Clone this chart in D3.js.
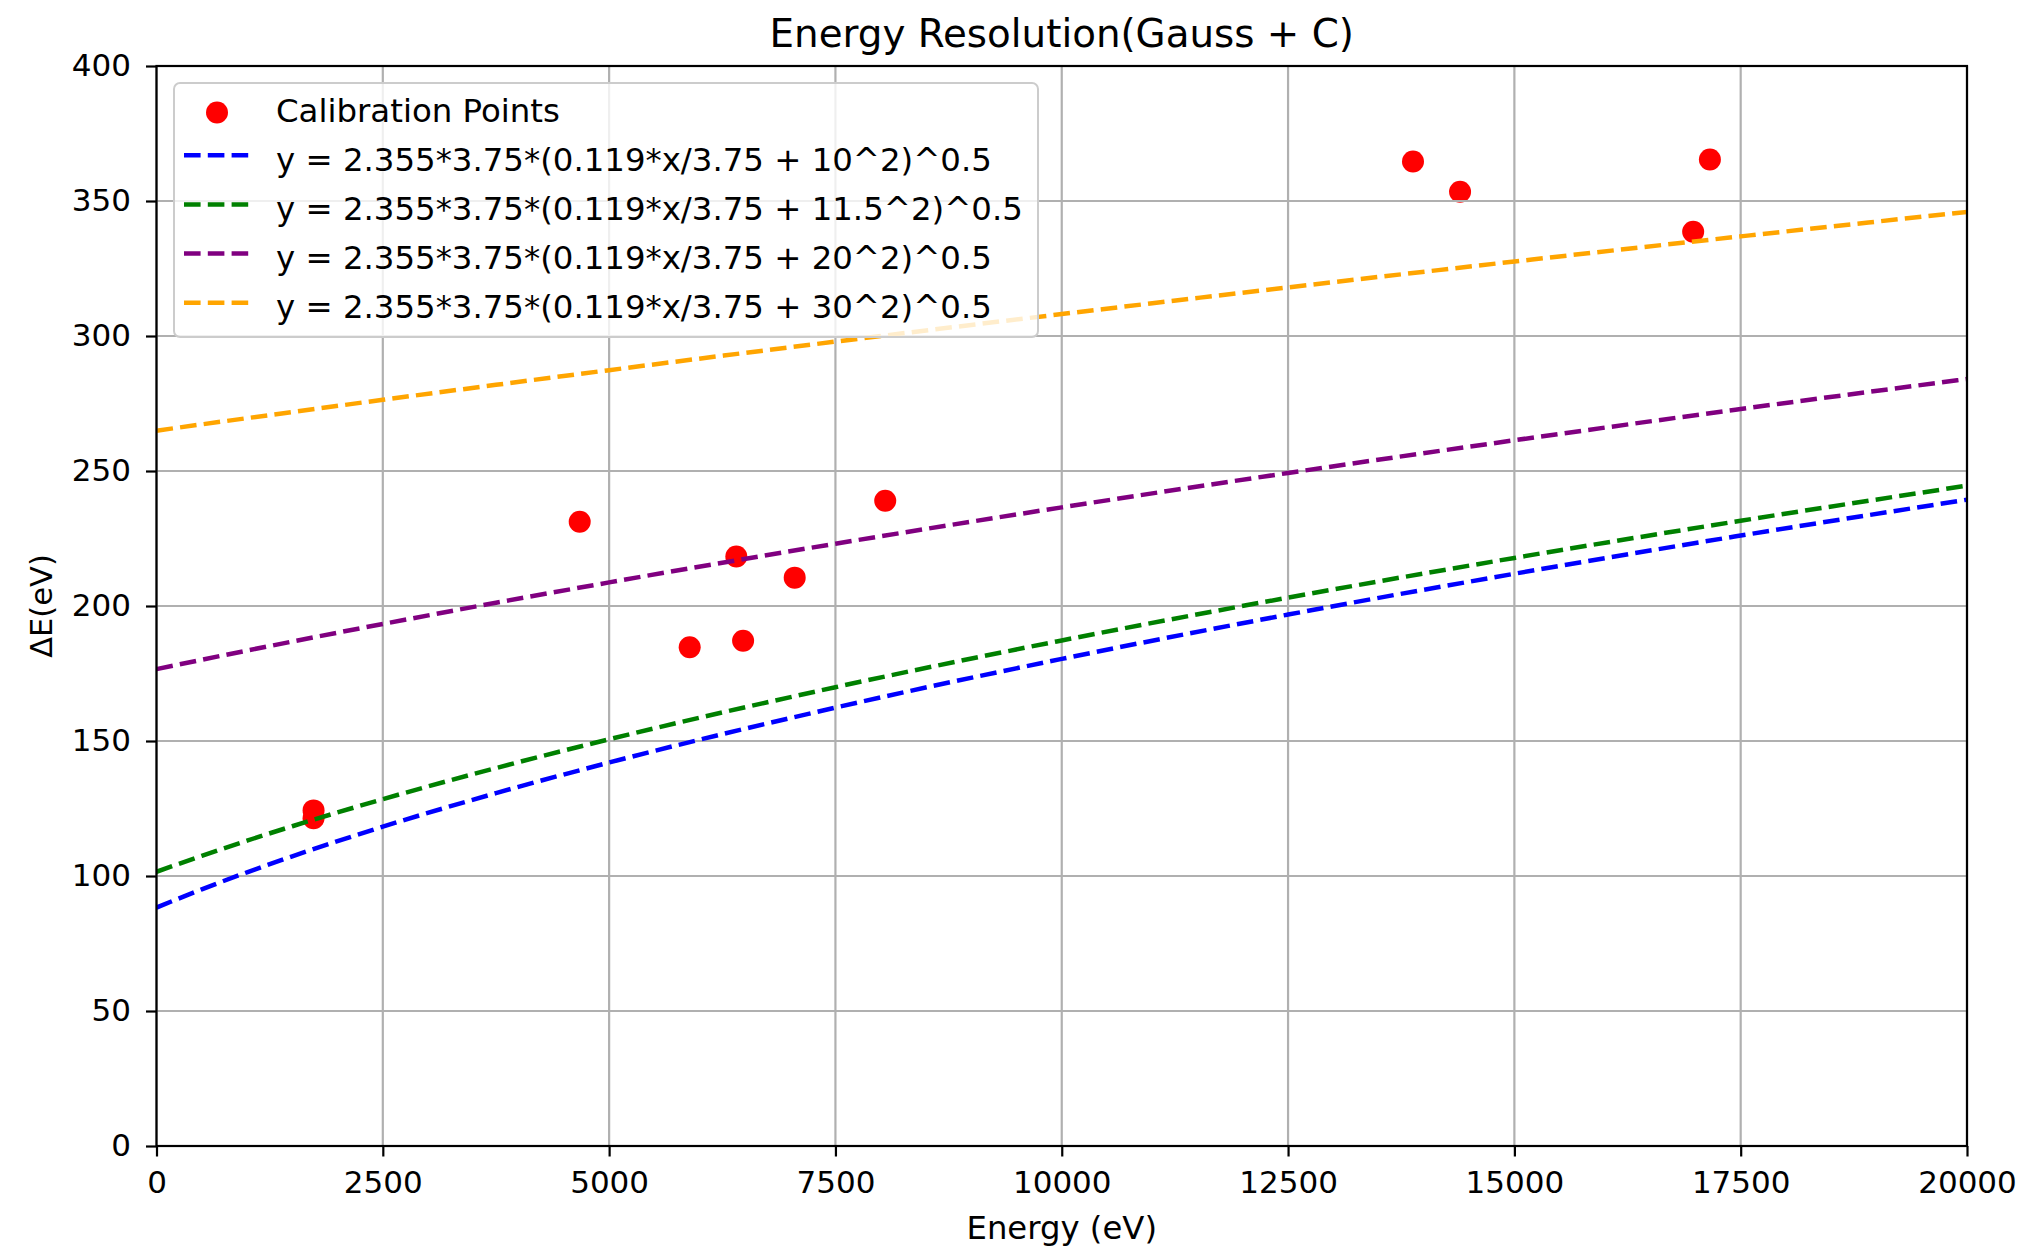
<!DOCTYPE html>
<html>
<head>
<meta charset="utf-8">
<script src="https://cdn.jsdelivr.net/npm/d3@7"></script>
<style>
  body { margin: 0; background: #fff; }
  text { font-family: "DejaVu Sans", sans-serif; fill: #000; }
</style>
</head>
<body>
<div id="chart"></div>
<script>
// calibration points
const energies = [1735, 1735, 4675, 5890, 6405, 6480, 7050, 8050, 13880, 14400, 16975, 17160];
const resolutions = [124.3, 121.4, 231.2, 184.7, 218.3, 187.1, 210.5, 239.0, 364.6, 353.4, 338.6, 365.4];

// the four dashed curves, sampled along x
const curveEnergies = [0, 500, 1000, 1500, 2500, 3750, 5000, 7500, 10000, 12500, 15000, 17500, 20000];
const fit10 = [88.31, 95.06, 101.36, 107.29, 118.27, 130.69, 142.03, 162.36, 180.41, 196.82, 211.95, 226.08, 239.37];
const fit115 = [101.56, 107.48, 113.09, 118.43, 128.46, 139.98, 150.63, 169.93, 187.25, 203.10, 217.81, 231.57, 244.57];
const fit20 = [176.63, 180.09, 183.50, 186.84, 193.35, 201.19, 208.74, 223.07, 236.53, 249.27, 261.38, 272.96, 284.07];
const fit30 = [264.94, 267.27, 269.57, 271.85, 276.37, 281.91, 287.35, 297.92, 308.13, 318.01, 327.59, 336.90, 345.97];

const curveLabels = [
    "y = 2.355*3.75*(0.119*x/3.75 + 10^2)^0.5",
    "y = 2.355*3.75*(0.119*x/3.75 + 11.5^2)^0.5",
    "y = 2.355*3.75*(0.119*x/3.75 + 20^2)^0.5",
    "y = 2.355*3.75*(0.119*x/3.75 + 30^2)^0.5"
];
const curveColors = ["blue", "green", "purple", "orange"];
const xTicks = [0, 2500, 5000, 7500, 10000, 12500, 15000, 17500, 20000];
const yTicks = [0, 50, 100, 150, 200, 250, 300, 350, 400];

const width = 2025, height = 1246;
const plot = { left: 156.5, right: 1967, top: 66, bottom: 1146 };

const svg = d3.select("#chart")
    .append("svg")
    .attr("width", width)
    .attr("height", height);

svg.append("rect").attr("width", width).attr("height", height).attr("fill", "#fff");

const xScale = d3.scaleLinear().domain([0, 20000]).range([plot.left, plot.right]);
const yScale = d3.scaleLinear().domain([0, 400]).range([plot.bottom, plot.top]);

svg.append("clipPath").attr("id", "clip")
    .append("rect")
    .attr("x", plot.left).attr("y", plot.top)
    .attr("width", plot.right - plot.left).attr("height", plot.bottom - plot.top);

// scatter first, grid over it (matplotlib order), then lines
const pts = energies.map((e, i) => ({ x: e, y: resolutions[i] }));
svg.append("g").attr("clip-path", "url(#clip)")
    .selectAll("circle")
    .data(pts)
    .enter()
    .append("circle")
    .attr("cx", d => xScale(d.x))
    .attr("cy", d => yScale(d.y))
    .attr("r", 11)
    .attr("fill", "red");

const grid = svg.append("g");
grid.selectAll(".gx").data(xTicks).enter().append("line")
    .attr("x1", d => xScale(d)).attr("x2", d => xScale(d))
    .attr("y1", plot.top).attr("y2", plot.bottom)
    .attr("stroke", "#b0b0b0").attr("stroke-width", 2.2);
grid.selectAll(".gy").data(yTicks).enter().append("line")
    .attr("x1", plot.left).attr("x2", plot.right)
    .attr("y1", d => yScale(d)).attr("y2", d => yScale(d))
    .attr("stroke", "#b0b0b0").attr("stroke-width", 2.2);

const fits = [fit10, fit115, fit20, fit30];
const line = d3.line()
    .x(d => xScale(d.x))
    .y(d => yScale(d.y))
    .curve(d3.curveMonotoneX);

const lineGroup = svg.append("g").attr("clip-path", "url(#clip)");
fits.forEach((vals, k) => {
    const data = curveEnergies.map((e, i) => ({ x: e, y: vals[i] }));
    lineGroup.append("path")
        .datum(data)
        .attr("fill", "none")
        .attr("stroke", curveColors[k])
        .attr("stroke-width", 4.5)
        .attr("stroke-dasharray", "16.6,7.2")
        .attr("d", line);
});

// axes
const xAxis = svg.append("g")
    .attr("transform", `translate(0,${plot.bottom})`)
    .call(d3.axisBottom(xScale).tickValues(xTicks).tickFormat(d3.format("d"))
        .tickSize(10.5).tickSizeOuter(0).tickPadding(14.5));
const yAxis = svg.append("g")
    .attr("transform", `translate(${plot.left},0)`)
    .call(d3.axisLeft(yScale).tickValues(yTicks).tickFormat(d3.format("d"))
        .tickSize(10.5).tickSizeOuter(0).tickPadding(15));

[xAxis, yAxis].forEach(ax => {
    ax.select(".domain").remove();
    ax.selectAll(".tick line").attr("stroke", "#000").attr("stroke-width", 2.2);
    ax.selectAll(".tick text")
        .style("font-family", "DejaVu Sans")
        .style("font-size", "31px")
        .attr("fill", "#000");
});

// frame
svg.append("rect")
    .attr("x", plot.left).attr("y", plot.top)
    .attr("width", plot.right - plot.left).attr("height", plot.bottom - plot.top)
    .attr("fill", "none")
    .attr("stroke", "#000")
    .attr("stroke-width", 2.2);

// labels
svg.append("text")
    .attr("x", (plot.left + plot.right) / 2)
    .attr("y", 46.7)
    .attr("text-anchor", "middle")
    .style("font-size", "38.8px")
    .text("Energy Resolution(Gauss + C)");

svg.append("text")
    .attr("x", (plot.left + plot.right) / 2)
    .attr("y", 1239)
    .attr("text-anchor", "middle")
    .style("font-size", "32.3px")
    .text("Energy (eV)");

svg.append("text")
    .attr("transform", `translate(51.7,${(plot.top + plot.bottom) / 2}) rotate(-90)`)
    .attr("text-anchor", "middle")
    .style("font-size", "30.5px")
    .text("ΔE(eV)");

// legend
const legend = svg.append("g");
legend.append("rect")
    .attr("x", 174).attr("y", 83)
    .attr("width", 864).attr("height", 254)
    .attr("rx", 6).attr("ry", 6)
    .attr("fill", "#fff")
    .attr("fill-opacity", 0.8)
    .attr("stroke", "#cccccc")
    .attr("stroke-width", 2);

const rowBase = 121.5, rowStep = 49.2;
legend.append("circle")
    .attr("cx", 217).attr("cy", rowBase - 9)
    .attr("r", 11).attr("fill", "red");
legend.append("text")
    .attr("x", 276).attr("y", rowBase)
    .style("font-size", "32.4px")
    .text("Calibration Points");

curveLabels.forEach((lab, k) => {
    const yb = rowBase + (k + 1) * rowStep;
    legend.append("line")
        .attr("x1", 184).attr("x2", 250)
        .attr("y1", yb - 15.5).attr("y2", yb - 15.5)
        .attr("stroke", curveColors[k])
        .attr("stroke-width", 4.5)
        .attr("stroke-dasharray", "16.6,7.2");
    legend.append("text")
        .attr("x", 276).attr("y", yb)
        .style("font-size", "32.4px")
        .text(lab);
});
</script>
</body>
</html>
